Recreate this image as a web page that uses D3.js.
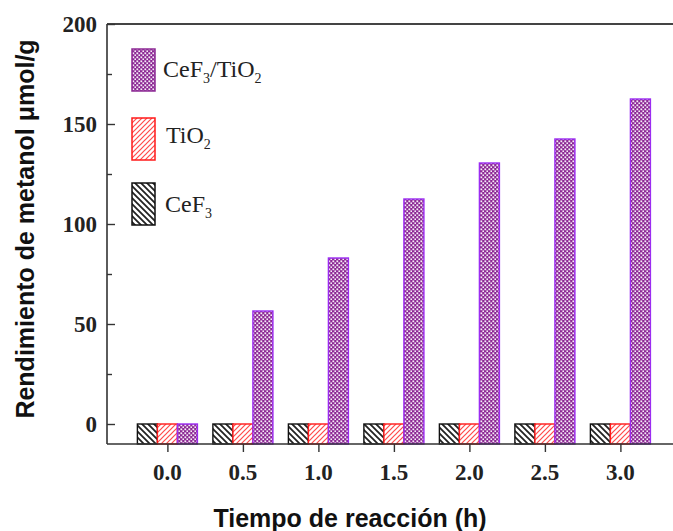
<!DOCTYPE html>
<html>
<head>
<meta charset="utf-8">
<script src="https://cdn.jsdelivr.net/npm/d3@7"></script>
<style>
  html, body { margin: 0; padding: 0; background: #fff; }
  svg { display: block; }
</style>
</head>
<body>
<script>
// Reaction time (h) and methanol yield (µmol/g) per catalyst
const times = [0, 0.5, 1.0, 1.5, 2.0, 2.5, 3.0];
const tickLabels = ["0.0", "0.5", "1.0", "1.5", "2.0", "2.5", "3.0"];
const cef3 = [0, 0, 0, 0, 0, 0, 0];
const tio2 = [0, 0, 0, 0, 0, 0, 0];
const cef3tio2 = [0, 56.5, 83, 112.5, 130.5, 142.5, 162.5];
const yTicks = [0, 50, 100, 150, 200];
const yMinorTicks = [25, 75, 125, 175];

const W = 673, H = 531;
const svg = d3.select("body").append("svg").attr("width", W).attr("height", H);

const plotLeft = 107, plotTop = 24, plotBottom = 444;
const x = d3.scaleLinear().domain([-0.4, 3.4]).range([plotLeft, plotLeft + 3.8 * 151]);
const y = d3.scaleLinear().domain([-10, 200]).range([plotBottom, plotTop]);
const barW = x(0.1325) - x(0);

// Fill patterns
const defs = svg.append("defs");
const pBlack = defs.append("pattern").attr("id", "pat-cef3")
  .attr("patternUnits", "userSpaceOnUse").attr("width", 6).attr("height", 6);
pBlack.append("rect").attr("width", 6).attr("height", 6).attr("fill", "#fff");
pBlack.append("path").attr("d", "M-1,-1 L7,7 M-4,2 L2,8 M4,-2 L8,2")
  .attr("stroke", "#222").attr("stroke-width", 1.8);

const pRed = defs.append("pattern").attr("id", "pat-tio2")
  .attr("patternUnits", "userSpaceOnUse").attr("width", 5).attr("height", 5);
pRed.append("rect").attr("width", 5).attr("height", 5).attr("fill", "#fff");
pRed.append("path").attr("d", "M-1,6 L6,-1 M-3,3 L3,-3 M2,8 L8,2")
  .attr("stroke", "#ff4a4a").attr("stroke-width", 1.2);

const pPurple = defs.append("pattern").attr("id", "pat-mix")
  .attr("patternUnits", "userSpaceOnUse").attr("width", 4).attr("height", 4);
pPurple.append("rect").attr("width", 4).attr("height", 4).attr("fill", "#8d2a95");
pPurple.append("rect").attr("x", 0.4).attr("y", 0.4).attr("width", 1.8).attr("height", 1.8).attr("fill", "#f6ecf8");
pPurple.append("rect").attr("x", 2.4).attr("y", 2.4).attr("width", 1.8).attr("height", 1.8).attr("fill", "#f6ecf8");

const series = [
  { name: "CeF3", values: cef3, fill: "url(#pat-cef3)", stroke: "#111", offset: -1 },
  { name: "TiO2", values: tio2, fill: "url(#pat-tio2)", stroke: "#ff1a1a", offset: 0 },
  { name: "CeF3/TiO2", values: cef3tio2, fill: "url(#pat-mix)", stroke: "#9b2cf2", offset: 1 }
];

// Bars: drawn from the bottom of the plot up to each value
series.forEach(s => {
  svg.append("g").selectAll("rect").data(times).join("rect")
    .attr("x", (t) => x(t) + s.offset * barW - barW / 2)
    .attr("y", (t, i) => y(s.values[i]))
    .attr("width", barW)
    .attr("height", (t, i) => y(-10) - y(s.values[i]))
    .attr("fill", s.fill)
    .attr("stroke", s.stroke)
    .attr("stroke-width", 1.4);
});

// Axes frame
const axisColor = "#333";
svg.append("line").attr("x1", plotLeft).attr("x2", W).attr("y1", plotTop).attr("y2", plotTop)
  .attr("stroke", "#444").attr("stroke-width", 2);
svg.append("line").attr("x1", plotLeft).attr("x2", W).attr("y1", plotBottom).attr("y2", plotBottom)
  .attr("stroke", axisColor).attr("stroke-width", 1.6);
svg.append("line").attr("x1", plotLeft).attr("x2", plotLeft).attr("y1", plotTop).attr("y2", plotBottom)
  .attr("stroke", axisColor).attr("stroke-width", 1.6);

// Y axis: inward ticks
const yAxis = d3.axisRight(y).tickValues(yTicks).tickSize(8).tickFormat("");
const gy = svg.append("g").attr("transform", `translate(${plotLeft},0)`).call(yAxis);
gy.select(".domain").remove();
gy.selectAll(".tick line").attr("stroke", axisColor).attr("stroke-width", 1.4);
const yAxisMinor = d3.axisRight(y).tickValues(yMinorTicks).tickSize(5).tickFormat("");
const gym = svg.append("g").attr("transform", `translate(${plotLeft},0)`).call(yAxisMinor);
gym.select(".domain").remove();
gym.selectAll(".tick line").attr("stroke", axisColor).attr("stroke-width", 1.4);

const tickFont = "Liberation Serif, Times New Roman, serif";
svg.append("g").selectAll("text").data(yTicks).join("text")
  .attr("x", 97).attr("y", d => y(d) + 8)
  .attr("text-anchor", "end")
  .attr("font-family", tickFont)
  .attr("font-weight", "bold").attr("font-size", 23).attr("fill", "#222")
  .text(d => d);

// X axis: outward ticks
const xAxis = d3.axisBottom(x).tickValues(times).tickSize(8).tickFormat("");
const gx = svg.append("g").attr("transform", `translate(0,${plotBottom})`).call(xAxis);
gx.select(".domain").remove();
gx.selectAll(".tick line").attr("stroke", axisColor).attr("stroke-width", 1.4);

svg.append("g").selectAll("text").data(times).join("text")
  .attr("x", d => x(d)).attr("y", 480)
  .attr("text-anchor", "middle")
  .attr("font-family", tickFont)
  .attr("font-weight", "bold").attr("font-size", 23).attr("fill", "#222")
  .text((d, i) => tickLabels[i]);

// Axis titles
svg.append("text")
  .attr("transform", "translate(34,229) rotate(-90)")
  .attr("text-anchor", "middle")
  .attr("font-family", "Liberation Sans, Arial, sans-serif")
  .attr("font-weight", "bold").attr("font-size", 25).attr("fill", "#111")
  .text("Rendimiento de metanol μmol/g");

svg.append("text")
  .attr("x", 350).attr("y", 527)
  .attr("text-anchor", "middle")
  .attr("font-family", "Liberation Sans, Arial, sans-serif")
  .attr("font-weight", "bold").attr("font-size", 25).attr("fill", "#111")
  .text("Tiempo de reacción (h)");

// Legend
const legendItems = [
  { s: series[2], y: 49, parts: [["CeF", false], ["3", true], ["/TiO", false], ["2", true]], tx: 163, ty: 77 },
  { s: series[1], y: 118, parts: [["TiO", false], ["2", true]], tx: 166, ty: 143 },
  { s: series[0], y: 183, parts: [["CeF", false], ["3", true]], tx: 165, ty: 212 }
];
const legendStroke = { "CeF3/TiO2": "#8d2a95", "TiO2": "#ff1a1a", "CeF3": "#111" };
legendItems.forEach(it => {
  svg.append("rect")
    .attr("x", 132).attr("y", it.y).attr("width", 23).attr("height", 42)
    .attr("fill", it.s.fill).attr("stroke", legendStroke[it.s.name]).attr("stroke-width", 1.5);
  const t = svg.append("text").attr("x", it.tx).attr("y", it.ty)
    .attr("font-family", tickFont)
    .attr("font-size", 24).attr("fill", "#222");
  it.parts.forEach(([str, sub]) => {
    const ts = t.append("tspan").text(str);
    if (sub) ts.attr("font-size", 14).attr("dy", 6);
    else ts.attr("dy", t.selectAll("tspan").size() > 1 ? -6 : 0);
  });
});
</script>
</body>
</html>
